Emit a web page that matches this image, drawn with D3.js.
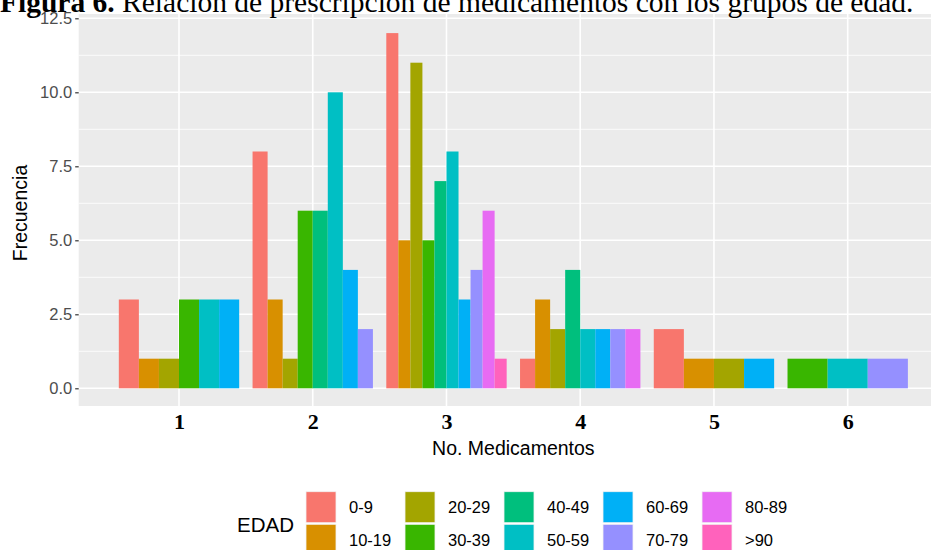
<!DOCTYPE html>
<html><head><meta charset="utf-8">
<script src="https://cdn.jsdelivr.net/npm/d3@7"></script>
<style>body{margin:0;background:#fff}svg{display:block}</style>
</head><body>
<script>
const categories = [1, 2, 3, 4, 5, 6];
const ageGroups = ["0-9","10-19","20-29","30-39","40-49","50-59","60-69","70-79","80-89",">90"];
const colors = ["#F8766D","#D89000","#A3A500","#39B600","#00BF7D","#00BFC4","#00B0F6","#9590FF","#E76BF3","#FF62BC"];
// Frecuencia per No. Medicamentos; null = age group absent in that category
const med1 = [3, 1, 1, 3, null, 3, 3, null, null, null];
const med2 = [8, 3, 1, 6, 6, 10, 4, 2, null, null];
const med3 = [12, 5, 11, 5, 7, 8, 3, 4, 6, 1];
const med4 = [1, 3, 2, null, 4, 2, 2, 2, 2, null];
const med5 = [2, 1, 1, null, null, null, 1, null, null, null];
const med6 = [null, null, null, 1, null, 1, null, 1, null, null];
const yTicks = [0, 2.5, 5, 7.5, 10, 12.5];
const yMinor = [1.25, 3.75, 6.25, 8.75, 11.25];
const titleBold = "Figura 6.";
const titleText = " Relación de prescripción de medicamentos con los grupos de edad.";
const xTitle = "No. Medicamentos";
const yTitle = "Frecuencia";
const legendTitle = "EDAD";

const series = [med1, med2, med3, med4, med5, med6];
const W = 931, H = 550;
const svg = d3.select("body").append("svg").attr("width", W).attr("height", H);

const x = d3.scaleLinear().domain([1, 6]).range([179, 847.7]);
const step = x(2) - x(1);
const y = d3.scaleLinear().domain([0, 12.5]).range([388.3, 18.3]);
const panel = {x0: x(0.25), x1: x(6.75), y0: 14, y1: 406};

// panel
svg.append("rect").attr("x", panel.x0).attr("y", panel.y0)
  .attr("width", panel.x1 - panel.x0).attr("height", panel.y1 - panel.y0).attr("fill", "#EBEBEB");
const g = svg.append("g");
g.selectAll("line.minor").data(yMinor).join("line")
  .attr("x1", panel.x0).attr("x2", panel.x1).attr("y1", d => y(d)).attr("y2", d => y(d))
  .attr("stroke", "#fff").attr("stroke-width", 0.8);
g.selectAll("line.majy").data(yTicks).join("line")
  .attr("x1", panel.x0).attr("x2", panel.x1).attr("y1", d => y(d)).attr("y2", d => y(d))
  .attr("stroke", "#fff").attr("stroke-width", 1.6);
g.selectAll("line.majx").data(categories).join("line")
  .attr("x1", d => x(d)).attr("x2", d => x(d)).attr("y1", panel.y0).attr("y2", panel.y1)
  .attr("stroke", "#fff").attr("stroke-width", 1.6);

// bars (position_dodge, total width 0.9)
categories.forEach((c, ci) => {
  const present = series[ci].map((v, i) => ({v, i})).filter(d => d.v !== null);
  const n = present.length;
  const bw = 0.9 * step / n;
  const start = x(c) - 0.45 * step;
  svg.append("g").selectAll("rect").data(present).join("rect")
    .attr("x", (d, k) => start + k * bw)
    .attr("width", bw)
    .attr("y", d => y(d.v))
    .attr("height", d => y(0) - y(d.v))
    .attr("fill", d => colors[d.i]);
});

// title (cut off at top, as in the source figure)
const t = svg.append("text").attr("x", 0).attr("y", 12)
  .attr("font-family", "'Liberation Serif','Times New Roman',serif").attr("font-size", 29.5).attr("fill", "#000");
t.append("tspan").attr("font-weight", "bold").text(titleBold);
t.append("tspan").text(titleText);

// y axis
const yAxis = d3.axisLeft(y).tickValues(yTicks).tickFormat(d3.format(".1f")).tickSize(3.5).tickPadding(3);
const ya = svg.append("g").attr("transform", `translate(${panel.x0},0)`).call(yAxis);
ya.select(".domain").remove();
ya.selectAll(".tick line").attr("stroke", "#333").attr("stroke-width", 1.2);
ya.selectAll(".tick text").attr("fill", "#4D4D4D").attr("font-size", 16.5)
  .attr("font-family", "'Liberation Sans',Arial,sans-serif");

// x axis
const xAxis = d3.axisBottom(x).tickValues(categories).tickFormat(d3.format("d")).tickSize(0).tickPadding(7);
const xa = svg.append("g").attr("transform", `translate(0,${panel.y1})`).call(xAxis);
xa.select(".domain").remove();
xa.selectAll(".tick text").attr("fill", "#000").attr("font-size", 22).attr("font-weight", "bold")
  .attr("font-family", "'Liberation Serif','Times New Roman',serif");

// axis titles
svg.append("text").attr("x", (panel.x0 + panel.x1) / 2).attr("y", 455).attr("text-anchor", "middle")
  .attr("font-family", "'Liberation Sans',Arial,sans-serif").attr("font-size", 19.5).attr("fill", "#000").text(xTitle);
svg.append("text").attr("transform", "translate(27,213) rotate(-90)").attr("text-anchor", "middle")
  .attr("font-family", "'Liberation Sans',Arial,sans-serif").attr("font-size", 19.5).attr("fill", "#000").text(yTitle);

// legend
const lg = svg.append("g");
lg.append("text").attr("x", 237).attr("y", 525.3).attr("dy", "0.35em")
  .attr("font-family", "'Liberation Sans',Arial,sans-serif").attr("font-size", 20.5).attr("fill", "#000").text(legendTitle);
const items = lg.selectAll("g.item").data(ageGroups).join("g")
  .attr("transform", (d, i) => `translate(${306 + Math.floor(i / 2) * 99},${491.7 + (i % 2) * 32.6})`);
items.append("rect").attr("width", 30).attr("height", 31).attr("fill", (d, i) => colors[i])
  .attr("stroke", "#f2f2f2").attr("stroke-width", 0.8);
items.append("text").attr("x", 43).attr("y", 16).attr("dy", "0.35em")
  .attr("font-family", "'Liberation Sans',Arial,sans-serif").attr("font-size", 16.5).attr("fill", "#000").text(d => d);
</script>
</body></html>
